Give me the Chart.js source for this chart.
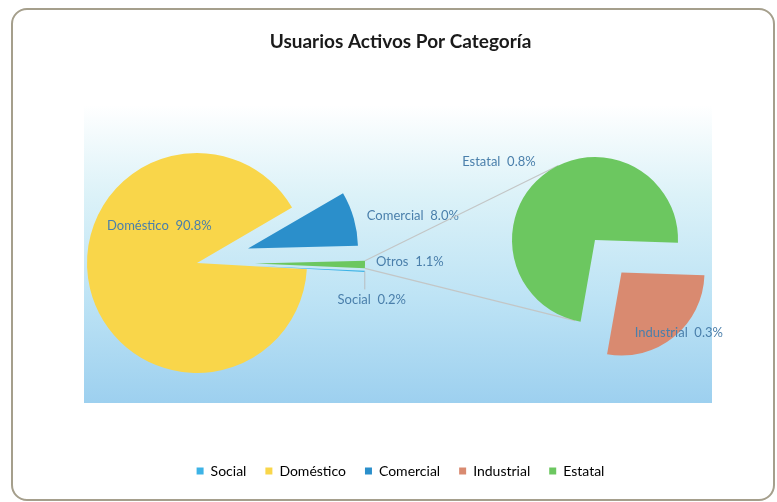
<!DOCTYPE html>
<html>
<head>
<meta charset="utf-8">
<title>Usuarios Activos Por Categoría</title>
<script src="https://cdn.jsdelivr.net/npm/chart.js@4.4.0/dist/chart.umd.min.js"></script>
<style>
  html, body { margin: 0; padding: 0; background: #fff; }
  #wrap { position: relative; width: 777px; height: 502px; overflow: hidden; }
  #wrap canvas { position: absolute; left: 0; top: 0; }
</style>
</head>
<body>
<div id="wrap">
  <canvas id="frameChart" width="777" height="502"></canvas>
  <canvas id="mainPie" width="777" height="502"></canvas>
  <canvas id="subPie" width="777" height="502"></canvas>
</div>
<script>
// Main pie (Otros = Industrial + Estatal)
const mainLabels = ['Social', 'Doméstico', 'Comercial', 'Otros'];
const mainValues = [0.2, 90.8, 8.0, 1.1];
const mainColors = ['#3db3e6', '#f9d64a', '#2b8fcb', '#6cc760'];

// Secondary pie (breakdown of Otros)
const subLabels = ['Estatal', 'Industrial'];
const subValues = [0.8, 0.3];
const subColors = ['#6cc760', '#d98a70'];

// Legend entries
const legendLabels = ['Social', 'Doméstico', 'Comercial', 'Industrial', 'Estatal'];

const FONT = 'Lato, "Open Sans", sans-serif';
const LABEL_COLOR = '#4a7fab';

const colorOf = {};
mainLabels.forEach((l, i) => colorOf[l] = mainColors[i]);
subLabels.forEach((l, i) => colorOf[l] = subColors[i]);

// Frame + plot area gradient
const backgroundPlugin = {
    id: 'background',
    beforeDraw(chart) {
        const ctx = chart.ctx;
        ctx.save();
        const top = 105, bottom = 403;
        const grad = ctx.createLinearGradient(0, top, 0, bottom);
        grad.addColorStop(0, '#ffffff');
        grad.addColorStop(0.3, '#dcf2f8');
        grad.addColorStop(0.65, '#bde3f5');
        grad.addColorStop(1, '#9dd0ef');
        ctx.fillStyle = grad;
        ctx.fillRect(84, top, 712 - 84, bottom - top);
        ctx.strokeStyle = '#a59f8c';
        ctx.lineWidth = 2;
        ctx.beginPath();
        ctx.roundRect(12, 9, 762, 491, 15);
        ctx.stroke();
        ctx.restore();
    }
};

// Draw slices pulled out from the centre without growing them
const explodePlugin = {
    id: 'explode',
    beforeDatasetDraw(chart, args, opts) {
        const ctx = chart.ctx;
        args.meta.data.forEach((arc, i) => {
            const d = opts.distances[i] || 0;
            const mid = (arc.startAngle + arc.endAngle) / 2;
            ctx.save();
            ctx.translate(Math.cos(mid) * d, Math.sin(mid) * d);
            arc.draw(ctx);
            ctx.restore();
        });
        return false;
    }
};

// Point on the outer edge of an exploded slice
function outerPoint(chart, i, angle) {
    const arc = chart.getDatasetMeta(0).data[i];
    const d = chart.options.plugins.explode.distances[i] || 0;
    const mid = (arc.startAngle + arc.endAngle) / 2;
    const a = angle === undefined ? mid : angle;
    return {
        x: arc.x + Math.cos(mid) * d + Math.cos(a) * arc.outerRadius,
        y: arc.y + Math.sin(mid) * d + Math.sin(a) * arc.outerRadius
    };
}

// Data labels "Name  xx.x%"
const labelPlugin = {
    id: 'sliceLabels',
    afterDatasetsDraw(chart, args, opts) {
        const ctx = chart.ctx;
        const meta = chart.getDatasetMeta(0);
        const labels = chart.data.labels;
        const values = chart.data.datasets[0].data;
        ctx.save();
        ctx.font = '13px ' + FONT;
        ctx.fillStyle = LABEL_COLOR;
        ctx.textBaseline = 'middle';
        opts.specs.forEach((s, i) => {
            if (!s) return;
            const arc = meta.data[i];
            let p = s.anchor === 'center' ? {x: arc.x, y: arc.y} : outerPoint(chart, i);
            if (s.leader) {
                ctx.strokeStyle = '#b9bdbf';
                ctx.lineWidth = 1;
                ctx.beginPath();
                ctx.moveTo(p.x, p.y);
                ctx.lineTo(p.x, p.y + s.leader);
                ctx.stroke();
            }
            ctx.textAlign = s.align;
            ctx.fillText(labels[i] + '  ' + values[i].toFixed(1) + '%', p.x + s.dx, p.y + s.dy);
        });
        ctx.restore();
    }
};

// Connector lines from Otros to the secondary pie
const connectorPlugin = {
    id: 'connector',
    beforeDatasetsDraw(chart) {
        const other = chart.getDatasetMeta(0).data[0];
        const cx = other.x, cy = other.y, r = other.outerRadius;
        const otros = mainChart.getDatasetMeta(0).data[3];
        const ends = [
            [outerPoint(mainChart, 3, otros.startAngle), 1],
            [outerPoint(mainChart, 3, otros.endAngle), -1]
        ];
        const ctx = chart.ctx;
        ctx.save();
        ctx.strokeStyle = '#c3c6c6';
        ctx.lineWidth = 1.2;
        ends.forEach(([p, side]) => {
            const d = Math.hypot(p.x - cx, p.y - cy);
            const th = Math.atan2(p.y - cy, p.x - cx);
            const a = th + side * Math.acos(r / d);
            ctx.beginPath();
            ctx.moveTo(p.x, p.y);
            ctx.lineTo(cx + Math.cos(a) * r, cy + Math.sin(a) * r);
            ctx.stroke();
        });
        ctx.restore();
    }
};

// Title, legend and background
new Chart(document.getElementById('frameChart'), {
    type: 'pie',
    data: { labels: legendLabels, datasets: [] },
    options: {
        responsive: false,
        animation: false,
        layout: { padding: { left: 24, right: 0, top: 0, bottom: 14 } },
        plugins: {
            title: {
                display: true,
                text: 'Usuarios Activos Por Categoría',
                color: '#1a1a1a',
                font: { family: FONT, size: 19, weight: 'bold' },
                padding: { top: 30, bottom: 10 }
            },
            legend: {
                position: 'bottom',
                labels: {
                    boxWidth: 7,
                    boxHeight: 7,
                    padding: 19,
                    color: '#222',
                    font: { family: FONT, size: 14 },
                    generateLabels: () => legendLabels.map((l, i) => ({
                        text: l, fillStyle: colorOf[l], strokeStyle: colorOf[l],
                        lineWidth: 0, hidden: false, index: i
                    }))
                }
            },
            tooltip: { enabled: false }
        }
    },
    plugins: [backgroundPlugin]
});

// Main pie
const mainChart = new Chart(document.getElementById('mainPie'), {
    type: 'pie',
    data: {
        labels: mainLabels,
        datasets: [{
            data: mainValues,
            backgroundColor: mainColors,
            borderWidth: 0,
            radius: 110,
            rotation: 92.5
        }]
    },
    options: {
        responsive: false,
        animation: false,
        events: [],
        layout: { padding: { left: 0, right: 383, top: 24, bottom: 0 } },
        plugins: {
            legend: { display: false },
            tooltip: { enabled: false },
            explode: { distances: [58, 0, 53, 58] },
            sliceLabels: {
                specs: [
                    { dx: 7, dy: 28, align: 'center', leader: 18 },
                    { anchor: 'center', dx: -90, dy: -37, align: 'left' },
                    { dx: 13, dy: -3, align: 'left' },
                    { dx: 11, dy: -3, align: 'left' }
                ]
            }
        }
    },
    plugins: [explodePlugin, labelPlugin]
});

// Secondary pie
new Chart(document.getElementById('subPie'), {
    type: 'pie',
    data: {
        labels: subLabels,
        datasets: [{
            data: subValues,
            backgroundColor: subColors,
            borderWidth: 0,
            radius: 83,
            rotation: 190
        }]
    },
    options: {
        responsive: false,
        animation: false,
        events: [],
        layout: { padding: { left: 413, right: 0, top: 0, bottom: 22 } },
        plugins: {
            legend: { display: false },
            tooltip: { enabled: false },
            explode: { distances: [0, 42] },
            sliceLabels: {
                specs: [
                    { dx: -7, dy: -14, align: 'right' },
                    { dx: 5, dy: -4, align: 'center' }
                ]
            }
        }
    },
    plugins: [connectorPlugin, explodePlugin, labelPlugin]
});
</script>
</body>
</html>
